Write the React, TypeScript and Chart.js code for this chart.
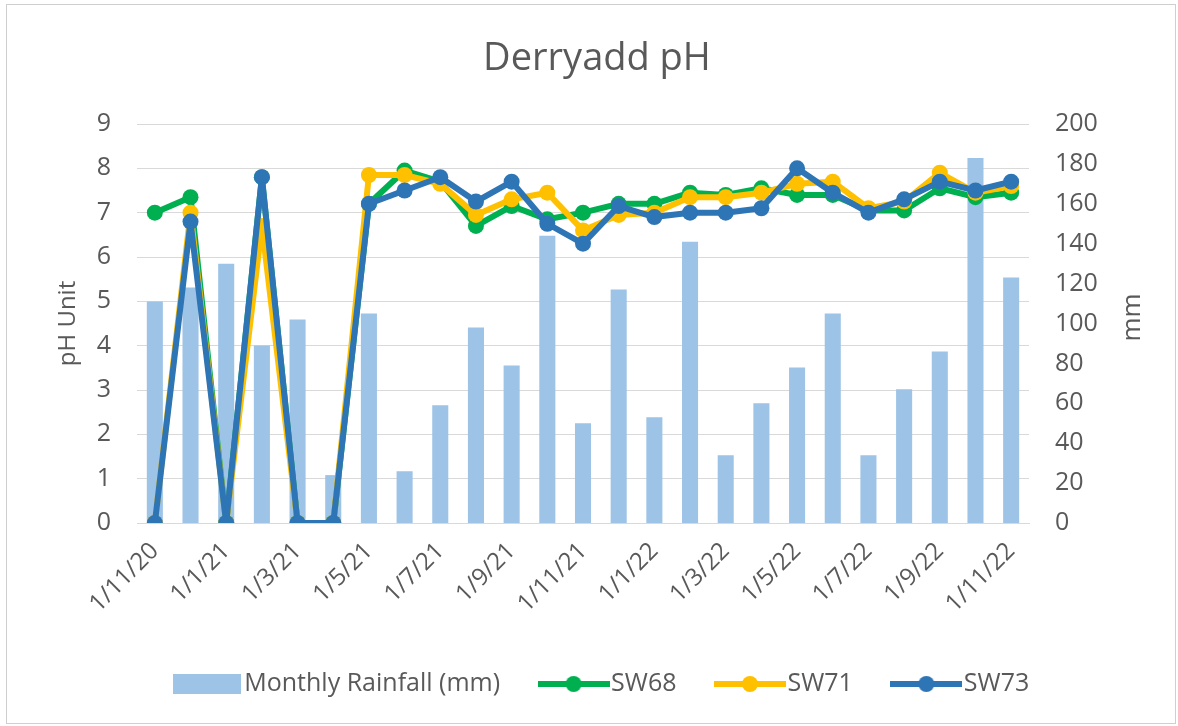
import React, { useEffect, useRef } from "react";
import { Chart, registerables } from "chart.js";

Chart.register(...registerables);

const categories = [
  "1/11/20", "1/12/20", "1/1/21", "1/2/21", "1/3/21", "1/4/21", "1/5/21",
  "1/6/21", "1/7/21", "1/8/21", "1/9/21", "1/10/21", "1/11/21", "1/12/21",
  "1/1/22", "1/2/22", "1/3/22", "1/4/22", "1/5/22", "1/6/22", "1/7/22",
  "1/8/22", "1/9/22", "1/10/22", "1/11/22",
];

const rainfall = [111, 118, 130, 89, 102, 24, 105, 26, 59, 98, 79, 144, 50, 117, 53, 141, 34, 60, 78, 105, 34, 67, 86, 183, 123];

const sw68 = [7.0, 7.35, 0, 7.8, 0, 0, 7.2, 7.95, 7.7, 6.7, 7.15, 6.85, 7.0, 7.2, 7.2, 7.45, 7.4, 7.55, 7.4, 7.4, 7.05, 7.05, 7.55, 7.35, 7.45];
const sw71 = [0, 7.0, 0, 6.7, 0, 0, 7.85, 7.85, 7.65, 6.95, 7.3, 7.45, 6.6, 6.95, 7.0, 7.35, 7.35, 7.45, 7.65, 7.7, 7.1, 7.25, 7.9, 7.45, 7.6];
const sw73 = [0, 6.8, 0, 7.8, 0, 0, 7.2, 7.5, 7.8, 7.25, 7.7, 6.75, 6.3, 7.15, 6.9, 7.0, 7.0, 7.1, 8.0, 7.45, 7.0, 7.3, 7.7, 7.5, 7.7];

const TITLE = "Derryadd pH";
const LEFT_TITLE = "pH Unit";
const RIGHT_TITLE = "mm";

const TEXT = "#595959";
const GRID = "#d9d9d9";
const BAR = "#9DC3E6";
const GREEN = "#00B050";
const YELLOW = "#FFC000";
const BLUE = "#2E75B6";

function barSwatch(): HTMLCanvasElement {
  const c = document.createElement("canvas");
  c.width = 68;
  c.height = 20;
  const ctx = c.getContext("2d")!;
  ctx.fillStyle = BAR;
  ctx.fillRect(0, 0, 68, 20);
  return c;
}

function lineSwatch(color: string): HTMLCanvasElement {
  const c = document.createElement("canvas");
  c.width = 72;
  c.height = 20;
  const ctx = c.getContext("2d")!;
  ctx.strokeStyle = color;
  ctx.lineWidth = 6;
  ctx.beginPath();
  ctx.moveTo(0, 10);
  ctx.lineTo(72, 10);
  ctx.stroke();
  ctx.fillStyle = color;
  ctx.beginPath();
  ctx.arc(36, 10, 8, 0, Math.PI * 2);
  ctx.fill();
  return c;
}

const extraText = {
  id: "extraText",
  afterDraw(chart: any) {
    const ctx = chart.ctx;
    const area = chart.chartArea;
    ctx.save();
    ctx.fillStyle = TEXT;
    ctx.textAlign = "center";
    ctx.textBaseline = "middle";
    ctx.font = '38px "Open Sans", sans-serif';
    ctx.fillText(TITLE, 597, 59);
    ctx.translate(1133, (area.top + area.bottom) / 2 - 6);
    ctx.rotate(-Math.PI / 2);
    ctx.font = '26px "Open Sans", sans-serif';
    ctx.fillText(RIGHT_TITLE, 0, 0);
    ctx.restore();
  },
};

function lineDataset(label: string, data: number[], color: string, order: number) {
  return {
    type: "line",
    label,
    data,
    borderColor: color,
    backgroundColor: color,
    borderWidth: 6,
    borderJoinStyle: "round",
    borderCapStyle: "round",
    pointRadius: 8,
    pointBorderWidth: 0,
    pointBackgroundColor: color,
    yAxisID: "y",
    order,
  };
}

export default function App() {
  const ref = useRef<HTMLCanvasElement | null>(null);

  useEffect(() => {
    if (!ref.current) return;
    Chart.defaults.font.family = '"Open Sans", sans-serif';
    Chart.defaults.color = TEXT;

    const swatches = [barSwatch(), lineSwatch(GREEN), lineSwatch(YELLOW), lineSwatch(BLUE)];

    const chart = new Chart(ref.current, {
      type: "bar",
      data: {
        labels: categories,
        datasets: [
          {
            type: "bar",
            label: "Monthly Rainfall (mm)",
            data: rainfall,
            backgroundColor: BAR,
            yAxisID: "y1",
            barPercentage: 0.45,
            categoryPercentage: 1,
            order: 4,
          },
          lineDataset("SW68", sw68, GREEN, 3),
          lineDataset("SW71", sw71, YELLOW, 2),
          lineDataset("SW73", sw73, BLUE, 1),
        ],
      },
      options: {
        responsive: false,
        animation: false,
        devicePixelRatio: 1,
        layout: { padding: { top: 124, left: 53, right: 20, bottom: 19.5 } },
        plugins: {
          tooltip: { enabled: false },
          title: { display: false },
          legend: {
            position: "bottom",
            labels: {
              usePointStyle: true,
              pointStyleWidth: 50,
              padding: 48.5,
              color: TEXT,
              font: { size: 25 },
              generateLabels: (c: any) =>
                c.data.datasets.map((ds: any, i: number) => ({
                  text: ds.label,
                  fillStyle: ds.backgroundColor,
                  strokeStyle: ds.backgroundColor,
                  lineWidth: 0,
                  pointStyle: swatches[i],
                  hidden: false,
                  datasetIndex: i,
                  fontColor: TEXT,
                })),
            },
          },
        },
        scales: {
          x: {
            afterFit: (s: any) => {
              s.height = 100;
            },
            grid: { display: false },
            border: { display: true, color: GRID, width: 1 },
            ticks: {
              autoSkip: false,
              minRotation: 45,
              maxRotation: 45,
              padding: 6,
              color: TEXT,
              font: { size: 24 },
              callback: (_v: any, i: number) => (i % 2 === 0 ? categories[i] : ""),
            },
          },
          y: {
            position: "left",
            min: 0,
            max: 9,
            afterFit: (s: any) => {
              s.width = 84;
            },
            grid: { color: GRID, lineWidth: 1, drawTicks: false },
            border: { display: false },
            ticks: { stepSize: 1, padding: 26, color: TEXT, font: { size: 25 } },
            title: {
              display: true,
              text: LEFT_TITLE,
              color: TEXT,
              font: { size: 24 },
              padding: { top: 1, bottom: 0 },
            },
          },
          y1: {
            position: "right",
            min: 0,
            max: 200,
            afterFit: (s: any) => {
              s.width = 129;
            },
            grid: { display: false, drawTicks: false },
            border: { display: false },
            ticks: { stepSize: 20, padding: 26, color: TEXT, font: { size: 25 } },
          },
        },
      },
      plugins: [extraText],
    } as any);

    return () => chart.destroy();
  }, []);

  return (
    <div style={{ position: "absolute", left: 0, top: 0, width: 1178, height: 726, background: "#fff" }}>
      <div
        style={{
          position: "absolute",
          left: 6,
          top: 4,
          width: 1170,
          height: 720,
          border: "1px solid #cfcfcf",
          boxSizing: "border-box",
        }}
      />
      <canvas ref={ref} width={1178} height={726} style={{ position: "absolute", left: 0, top: 0 }} />
    </div>
  );
}
